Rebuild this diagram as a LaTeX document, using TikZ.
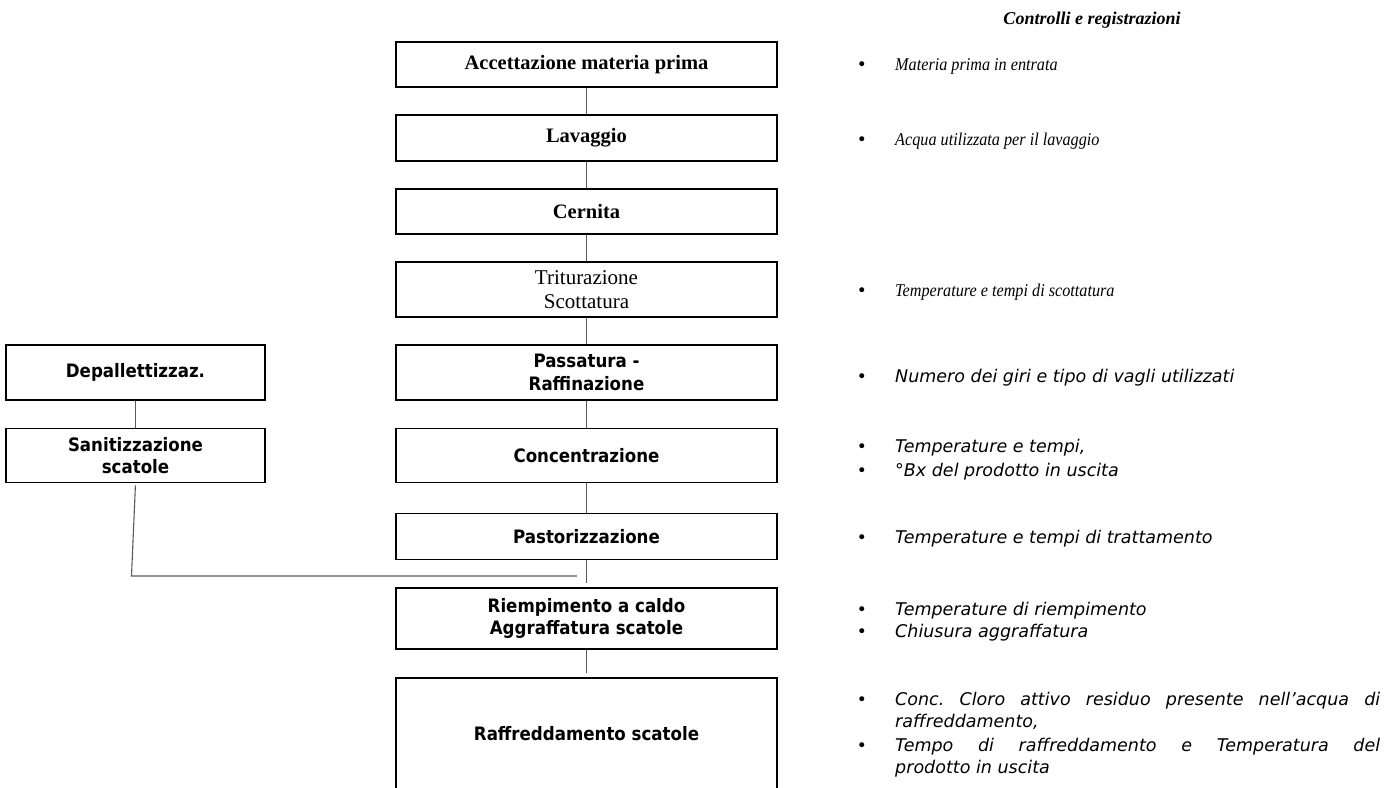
\documentclass[tikz,border=0pt]{standalone}
\usepackage{fontspec}
\setmainfont{Liberation Serif}
\newfontfamily\tah{DejaVu Sans Condensed}
\newfontfamily\verd{DejaVu Sans}
\newfontfamily\gari[FakeStretch=0.9]{Liberation Serif}
\begin{document}
\frenchspacing
\begin{tikzpicture}[x=1pt,y=-1pt]
\tikzset{
  box/.style={draw, line width=1.8pt, minimum width=381pt, align=center, inner sep=0pt},
  sbox/.style={draw, line width=1.8pt, minimum width=259pt, align=center, inner sep=0pt},
  serb/.style={font=\fontsize{20.5}{24}\selectfont\bfseries},
  serr/.style={font=\fontsize{21}{24}\selectfont},
  sanb/.style={font=\tah\fontsize{18.5}{22.5}\selectfont\bfseries},
  link/.style={draw=black!65, line width=1.1pt},
  bul/.style={anchor=base, inner sep=0pt, font=\verd\fontsize{17}{17}\selectfont},
  ctl/.style={anchor=base west, inner sep=0pt},
  seri/.style={font=\gari\fontsize{18}{20}\selectfont\itshape},
  sani/.style={font=\verd\fontsize{17.5}{20}\selectfont\itshape},
}
\useasboundingbox (0,0) rectangle (1391,787);

% title
\node[anchor=base, inner sep=0pt, font=\fontsize{18}{20}\selectfont\bfseries\itshape] (title) at (1092,24) {Controlli e registrazioni};

% main column
\node[box, serb, minimum height=45pt] (acc) at (586.5,64.5) {Accettazione materia prima};
\node[box, serb, minimum height=46pt] (lav) at (586.5,138) {Lavaggio};
\node[box, serb, minimum height=45pt] (cer) at (586.5,211.5) {Cernita};
\node[box, serr, minimum height=55pt] (tri) at (586.5,289.5) {Triturazione\\Scottatura};
\node[box, sanb, minimum height=55pt] (pas) at (586.5,372.5) {Passatura -\\Raffinazione};
\node[box, sanb, minimum height=54pt] (con) at (586.5,455.5) {Concentrazione};
\node[box, sanb, minimum height=46pt] (pst) at (586.5,536.5) {Pastorizzazione};
\node[box, sanb, minimum height=61pt] (rie) at (586.5,618.5) {Riempimento a caldo\\Aggraffatura scatole};
\node[box, sanb, minimum height=112pt] (raf) at (586.5,734) {Raffreddamento scatole};

% left column
\node[sbox, sanb, minimum height=55pt] (dep) at (135.5,372.5) {Depallettizzaz.};
\node[sbox, sanb, minimum height=54pt] (san) at (135.5,455.5) {Sanitizzazione\\scatole};

% connectors
\draw[link] (acc) -- (lav);
\draw[link] (lav) -- (cer);
\draw[link] (cer) -- (tri);
\draw[link] (tri) -- (pas);
\draw[link] (pas) -- (con);
\draw[link] (con) -- (pst);
\draw[link, shorten >=4pt] (pst) -- (rie);
\draw[link, shorten >=4pt] (rie) -- (raf);
\draw[link] (dep) -- (san);
\coordinate (j1) at (131.5,576);
\coordinate (j2) at (577,576);
\draw[link, shorten <=2pt] (san.south) -- (j1) -- (j2);

% controls
\node[bul] (b1) at (862,70) {•};
\node[ctl, seri] (t1) at (895,70) {Materia prima in entrata};
\node[bul] (b2) at (862,145) {•};
\node[ctl, seri] (t2) at (895,145) {Acqua utilizzata per il lavaggio};
\node[bul] (b3) at (862,296) {•};
\node[ctl, seri] (t3) at (895,296) {Temperature e tempi di scottatura};
\node[bul] (b4) at (862,382) {•};
\node[ctl, sani] (t4) at (895,382) {Numero dei giri e tipo di vagli utilizzati};
\node[bul] (b5) at (862,452) {•};
\node[ctl, sani] (t5) at (895,452) {Temperature e tempi,};
\node[bul] (b6) at (862,476) {•};
\node[ctl, sani] (t6) at (895,476) {°Bx del prodotto in uscita};
\node[bul] (b7) at (862,543) {•};
\node[ctl, sani] (t7) at (895,543) {Temperature e tempi di trattamento};
\node[bul] (b8) at (862,615) {•};
\node[ctl, sani] (t8) at (895,615) {Temperature di riempimento};
\node[bul] (b9) at (862,637) {•};
\node[ctl, sani] (t9) at (895,637) {Chiusura aggraffatura};
\node[bul] (b10) at (862,705) {•};
\node[ctl, sani] (t10) at (895,705) {\makebox[485pt][s]{Conc. Cloro attivo residuo presente nell’acqua di}};
\node[ctl, sani] (t10b) at (895,727) {raffreddamento,};
\node[bul] (b11) at (862,751) {•};
\node[ctl, sani] (t11) at (895,751) {\makebox[485pt][s]{Tempo di raffreddamento e Temperatura del}};
\node[ctl, sani] (t11b) at (895,773) {prodotto in uscita};
\end{tikzpicture}
\end{document}
